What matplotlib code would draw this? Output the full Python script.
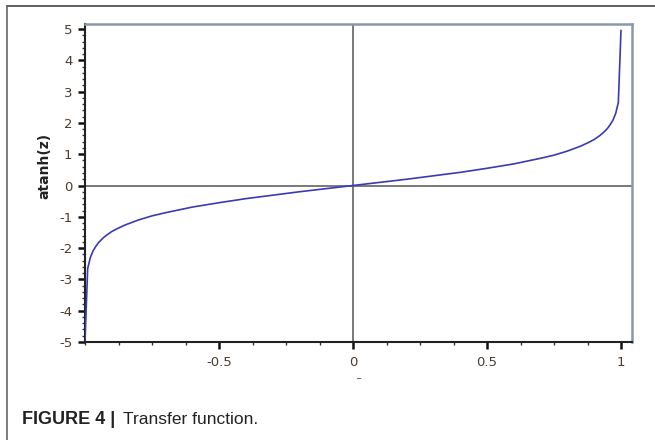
import numpy as np
import matplotlib
matplotlib.use("Agg")
import matplotlib.pyplot as plt
from matplotlib.ticker import MultipleLocator

plt.rcParams["axes.unicode_minus"] = False

z_vals = [-0.9999, -0.99, -0.98, -0.97, -0.96, -0.95, -0.94, -0.93, -0.92,
          -0.9, -0.88, -0.85, -0.8, -0.75, -0.7, -0.65, -0.6, -0.5, -0.4,
          -0.3, -0.2, -0.1, 0.0,
          0.1, 0.2, 0.3, 0.4, 0.5, 0.6, 0.65, 0.7, 0.75, 0.8, 0.85, 0.88,
          0.9, 0.92, 0.93, 0.94, 0.95, 0.96, 0.97, 0.98, 0.99, 0.9999]
y_vals = [-4.95, -2.65, -2.30, -2.09, -1.95, -1.83, -1.74, -1.66, -1.59,
          -1.47, -1.38, -1.26, -1.10, -0.97, -0.87, -0.78, -0.69, -0.55, -0.42,
          -0.31, -0.20, -0.10, 0.0,
          0.10, 0.20, 0.31, 0.42, 0.55, 0.69, 0.78, 0.87, 0.97, 1.10, 1.26, 1.38,
          1.47, 1.59, 1.66, 1.74, 1.83, 1.95, 2.09, 2.30, 2.65, 4.95]

x_ticks = [-0.5, 0, 0.5, 1]
x_labels = ["-0.5", "0", "0.5", "1"]
y_ticks = [-5, -4, -3, -2, -1, 0, 1, 2, 3, 4, 5]

tick_col = "#4a3c30"

fig = plt.figure(figsize=(6.55, 4.4), dpi=100)
ax = fig.add_axes([85/655, 1-342/440, (632-85)/655, (342-24)/440])

ax.axhline(0, color="#6e6e6e", lw=1.3, zorder=1)
ax.axvline(0, color="#6e6e6e", lw=1.3, zorder=1)
ax.plot(z_vals, y_vals, color="#3a3ab4", lw=1.2, zorder=3)

ax.set_xlim(-1.0, 1.041)
ax.set_ylim(-5, 5.16)
ax.set_xticks(x_ticks)
ax.set_xticklabels(x_labels)
ax.set_yticks(y_ticks)
ax.xaxis.set_minor_locator(MultipleLocator(0.125))
ax.yaxis.set_minor_locator(MultipleLocator(0.2))

ax.tick_params(which="major", direction="out", length=5, width=1.8,
               color="#111111", labelsize=9.5, labelcolor=tick_col, pad=4)
ax.tick_params(which="minor", direction="out", length=2.5, width=1,
               color="#333333")
ax.tick_params(axis="x", which="major", pad=5)

for s in ["top", "right"]:
    ax.spines[s].set_color("#8a98a8")
    ax.spines[s].set_linewidth(1.8)
for s in ["left", "bottom"]:
    ax.spines[s].set_color("#222222")
    ax.spines[s].set_linewidth(1.5)

fig.text(44/655, 1-166/440, "atanh(z)", rotation=90, ha="center", va="center",
         fontsize=10, fontweight="bold", color="#222222")
fig.text(358/655, 1-375/440, "_", ha="center", va="center", fontsize=6,
         color="#444444")

# outer frame: top and left edges only
fig.add_artist(plt.Line2D([7/655, 1], [1-6/440, 1-6/440], color="#444444",
                          lw=1.2, transform=fig.transFigure))
fig.add_artist(plt.Line2D([7/655, 7/655], [0, 1-6/440], color="#666666",
                          lw=1.2, transform=fig.transFigure))

fig.text(22/655, 1-419/440, "FIGURE 4 |", fontsize=13, fontweight="bold",
         family="Liberation Sans", va="center", color="#222222")
fig.text(123/655, 1-419/440, "Transfer function.", fontsize=12.5,
         family="Liberation Sans", va="center", color="#222222")

fig.savefig("out.png", dpi=100)
